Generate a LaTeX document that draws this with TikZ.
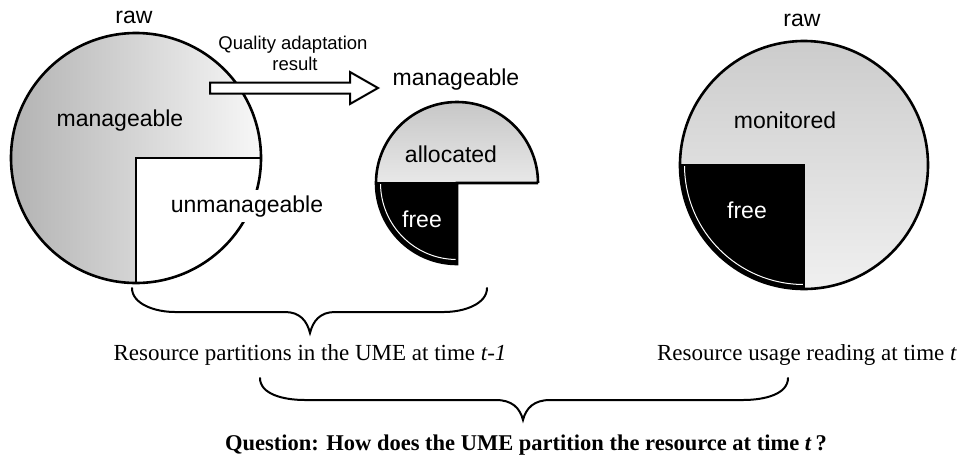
\documentclass[tikz,border=0pt]{standalone}
\usepackage{fontspec}
\setmainfont{Liberation Serif}
\newfontfamily\labelfont{Liberation Sans}
\usetikzlibrary{calc}

\begin{document}
\begin{tikzpicture}[x=1pt,y=-1pt,
  outline/.style={draw=black, line width=2.6pt},
  part/.style={font=\labelfont\fontsize{23}{27}\selectfont, inner sep=0pt, anchor=base},
  partw/.style={part, text=white},
  small/.style={font=\labelfont\fontsize{18.5}{21}\selectfont, inner sep=0pt, anchor=base},
  caption/.style={font=\fontsize{23}{27}\selectfont, inner sep=0pt, anchor=base},
  bracestroke/.style={draw=black, line width=2pt, line cap=round},
  blockarrow/.style={draw=black, fill=white, line width=2pt, line join=miter}
]
\useasboundingbox (0,0) rectangle (959,467);

% ---------- left circle: raw resource at t-1 ----------
\coordinate (LC) at (136,158);
\shade[left color=black!30, right color=black!3]
  (LC) -- ($(LC)+(0,125)$) arc[start angle=90, end angle=360, radius=125] -- cycle;
\draw[outline] (LC) circle[radius=125];
\draw[outline] ($(LC)+(0,125)$) -- (LC) -- ($(LC)+(125,0)$);

\node[part] (rawL) at (134,23) {raw};
\node[part] (manL) at (120,126) {manageable};
\node[part, fill=white, inner xsep=3pt, inner ysep=5pt] (unman) at (247,212) {unmanageable};

% ---------- quality adaptation arrow ----------
\coordinate (A0) at (210,88);
\coordinate (A1) at (378,88);
\draw[blockarrow] ($(A0)+(0,-5.5)$) -- ($(A1)+(-28,-5.5)$) -- ($(A1)+(-28,-16)$) -- (A1)
  -- ($(A1)+(-28,16)$) -- ($(A1)+(-28,5.5)$) -- ($(A0)+(0,5.5)$) -- cycle;
\node[small] (qa1) at (293,49) {Quality adaptation};
\node[small] (qa2) at (295,70) {result};

% ---------- middle circle: manageable part ----------
\coordinate (MC) at (457,183);
\shade[top color=black!22, bottom color=black!9]
  ($(MC)+(-81,0)$) arc[start angle=180, end angle=360, radius=81] -- cycle;
\fill[black] (MC) -- ($(MC)+(0,81)$) arc[start angle=90, end angle=180, radius=81] -- cycle;
\draw[white, line width=1pt] ($(MC)+(0,76.5)$) arc[start angle=90, end angle=180, radius=76.5];
\draw[outline] ($(MC)+(81,0)$) -- (MC) -- ($(MC)+(0,81)$)
  arc[start angle=90, end angle=360, radius=81];
\draw[outline] ($(MC)+(-81,0)$) -- (MC);

\node[part] (manM) at (456,85) {manageable};
\node[part] (alloc) at (451,162) {allocated};
\node[partw] (freeM) at (422,227) {free};

% ---------- right circle: usage reading at t ----------
\coordinate (RC) at (804,165);
\shade[top color=black!20, bottom color=black!6]
  (RC) -- ($(RC)+(-124,0)$) arc[start angle=180, end angle=450, radius=124] -- cycle;
\fill[black] (RC) -- ($(RC)+(0,124)$) arc[start angle=90, end angle=180, radius=124] -- cycle;
\draw[white, line width=1pt] ($(RC)+(0,119.5)$) arc[start angle=90, end angle=180, radius=119.5];
\draw[outline] (RC) circle[radius=124];
\draw[outline] ($(RC)+(-124,0)$) -- (RC) -- ($(RC)+(0,124)$);

\node[part] (rawR) at (802,26) {raw};
\node[part] (monit) at (785,128) {monitored};
\node[partw] (freeR) at (747,218) {free};

% ---------- braces and captions ----------
\coordinate (B1L) at (132,288);
\coordinate (B1R) at (487,288);
\coordinate (B1T) at (310,333);
\draw[bracestroke] (B1L) .. controls +(0,16) and +(-20,0) .. ($(B1L)+(43,24)$)
  -- ($(B1T)+(-25,-21)$) .. controls +(15,0) and +(-3,-12) .. (B1T)
  .. controls +(3,-12) and +(-15,0) .. ($(B1T)+(25,-21)$)
  -- ($(B1R)+(-43,24)$) .. controls +(20,0) and +(0,16) .. (B1R);

\coordinate (B2L) at (260,378);
\coordinate (B2R) at (788,378);
\coordinate (B2T) at (523,420);
\draw[bracestroke] (B2L) .. controls +(0,16) and +(-22,0) .. ($(B2L)+(45,22)$)
  -- ($(B2T)+(-27,-20)$) .. controls +(16,0) and +(-3,-12) .. (B2T)
  .. controls +(3,-12) and +(-16,0) .. ($(B2T)+(27,-20)$)
  -- ($(B2R)+(-45,22)$) .. controls +(22,0) and +(0,16) .. (B2R);

\node[caption] (cap1) at (310,360) {Resource partitions in the UME at time \textit{t-1}};
\node[caption] (cap2) at (807,360) {Resource usage reading at time \textit{t}};
\node[caption, font=\bfseries\fontsize{22.5}{26}\selectfont] (quest) at (526,450)
  {Question: How does the UME partition the resource at time \textit{t}\,?};
\end{tikzpicture}
\end{document}
